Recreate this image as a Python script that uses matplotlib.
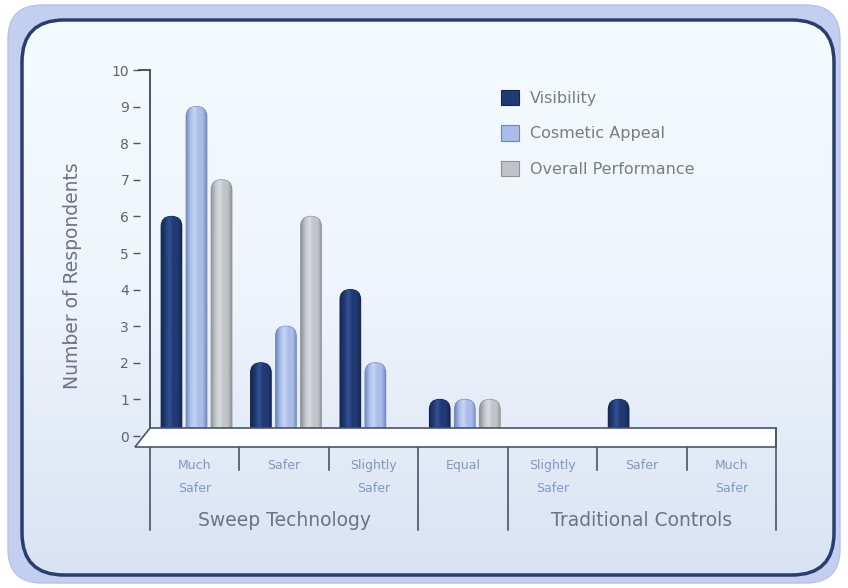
import numpy as np
import matplotlib
matplotlib.use('Agg')
import matplotlib.pyplot as plt
from matplotlib.patches import FancyBboxPatch, Polygon, Patch
from matplotlib.colors import LinearSegmentedColormap

categories = ['Much\nSafer', 'Safer', 'Slightly\nSafer', 'Equal',
              'Slightly\nSafer', 'Safer', 'Much\nSafer']
groups = ['Sweep Technology', 'Traditional Controls']
series = ['Visibility', 'Cosmetic Appeal', 'Overall Performance']
visibility = [6, 2, 4, 1, 0, 1, 0]
cosmetic = [9, 3, 2, 1, 0, 0, 0]
overall = [7, 6, 0, 1, 0, 0, 0]

colors = ['#213a72', '#a9bde8', '#c0c4c8']
highlights = ['#35549a', '#cbd9f5', '#dcdfe2']
edges = ['#142650', '#6f86bb', '#8c9297']

W, H = 848, 588
fig = plt.figure(figsize=(W / 100, H / 100), dpi=100)
fig.patch.set_facecolor('white')

# decorative frame behind the chart, in pixel units
bg = fig.add_axes([0, 0, 1, 1], zorder=0)
bg.set_xlim(0, W)
bg.set_ylim(H, 0)
bg.axis('off')
outer = FancyBboxPatch((8, 5), 832, 578, boxstyle='round,pad=0,rounding_size=34',
                       fc='#c2cfee', ec='#b3c3e8', lw=1)
bg.add_patch(outer)
inner = FancyBboxPatch((22, 20), 812, 555, boxstyle='round,pad=0,rounding_size=42',
                       fc='none', ec='#2b3d6e', lw=2.5, zorder=3)
bg.add_patch(inner)
grad = np.linspace(0, 1, 256).reshape(-1, 1)
panel_cmap = LinearSegmentedColormap.from_list('panel', ['#f5fcff', '#eef4fb', '#d9e3f3'])
img = bg.imshow(grad, cmap=panel_cmap, extent=[22, 834, 575, 20], aspect='auto', zorder=2)
img.set_clip_path(inner)

# chart axes
ax = fig.add_axes([150 / W, (H - 447) / H, 626 / W, 377 / H], zorder=1)
ax.patch.set_visible(False)
ax.set_xlim(-0.5, 6.5)
ax.set_ylim(-0.3, 10)
for s in ['top', 'right', 'bottom']:
    ax.spines[s].set_visible(False)
ax.spines['left'].set_position(('outward', 7))
ax.spines['left'].set_visible(False)
ax.set_yticks(range(11))
ax.tick_params(axis='y', length=5, width=1, color='#4d5566', labelcolor='#5b6472',
               labelsize=10, pad=3)
ax.set_xticks([])

# back wall axis line
ax.plot([-0.5, -0.5], [0.22, 10], color='#3c4660', lw=1.3, clip_on=False, zorder=5)
ax.plot([-0.62, -0.5], [10, 10], color='#3c4660', lw=1.3, clip_on=False, zorder=5)

x = np.arange(len(categories))
offset = 0.28
bw = 0.23
px_x = 626 / 7.0
px_y = 377 / 10.3
aspect = px_x / px_y
r = 10 / px_x


def capsule(xc, v, color, hl, ec):
    if v <= 0:
        return
    patch = FancyBboxPatch((xc - bw / 2, -0.3), bw, v + 0.3,
                           boxstyle='round,pad=0,rounding_size=%f' % r,
                           mutation_aspect=aspect, fc=color, ec=ec, lw=0.8, zorder=3)
    ax.add_patch(patch)
    cm = LinearSegmentedColormap.from_list('cyl', [ec, color, hl, color, color, ec])
    shade = ax.imshow(np.linspace(0, 1, 64).reshape(1, -1), cmap=cm,
                      extent=[xc - bw / 2, xc + bw / 2, -0.3, v],
                      aspect='auto', zorder=3.5, alpha=0.9)
    shade.set_clip_path(patch)


for i, vals in enumerate([visibility, cosmetic, overall]):
    for xc, v in zip(x + (i - 1) * offset + 0.02, vals):
        capsule(xc, v, colors[i], highlights[i], edges[i])
ax.set_xlim(-0.5, 6.5)
ax.set_ylim(-0.3, 10)

# floor strip
floor = Polygon([(-0.5, 0.22), (6.5, 0.22), (6.5, -0.3), (-0.5 - 15 / px_x, -0.3)],
                closed=True, fc='white', ec='#49536c', lw=1.2, zorder=6, clip_on=False)
ax.add_patch(floor)

# category dividers below the floor
tr = ax.get_xaxis_transform()
for xb in [0.5, 1.5, 4.5, 5.5]:
    ax.plot([xb, xb], [0, -23 / 377], transform=tr, color='#3c4660', lw=1.1, clip_on=False)
for xb in [-0.5, 2.5, 3.5, 6.5]:
    ax.plot([xb, xb], [0, -83 / 377], transform=tr, color='#3c4660', lw=1.1, clip_on=False)
ax.plot([6.5, 6.5], [0.22, -0.3], color='#49536c', lw=1.2, clip_on=False, zorder=6)

for xc, lab in zip(x, categories):
    ax.text(xc, -12 / 377, lab, transform=tr, ha='center', va='top', fontsize=9,
            color='#8196c2', linespacing=1.95)
ax.text(1.0, -74 / 377, groups[0], transform=tr, ha='center', va='center',
        fontsize=13.5, color='#6c7482')
ax.text(5.0, -74 / 377, groups[1], transform=tr, ha='center', va='center',
        fontsize=13.5, color='#6c7482')

fig.text(73 / W, 1 - 276 / H, 'Number of Respondents', rotation=90, ha='center',
         va='center', fontsize=13.5, color='#6b7384')

handles = [Patch(fc=colors[i], ec=edges[i], lw=0.8) for i in range(3)]
leg = ax.legend(handles, series, loc='upper left', bbox_to_anchor=(0.548, 0.968),
                frameon=False, fontsize=11.5, handlelength=1.1, handleheight=1.1,
                handletextpad=0.7, labelspacing=1.2, borderpad=0, labelcolor='#737d8c')

fig.savefig('out.png', dpi=100)
